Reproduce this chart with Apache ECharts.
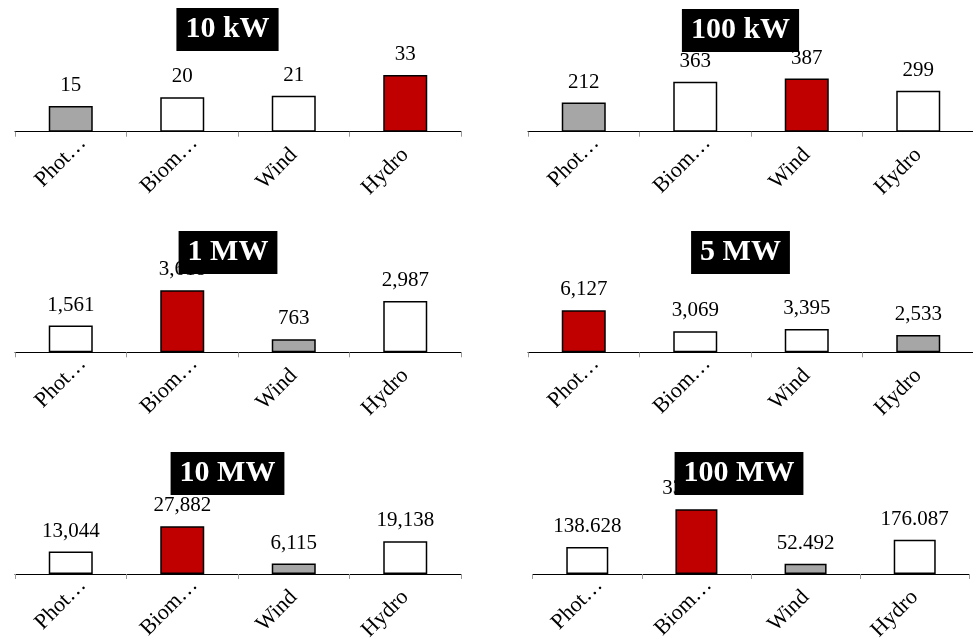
<!DOCTYPE html>
<html>
<head>
<meta charset="utf-8">
<script src="https://cdn.jsdelivr.net/npm/echarts@6/dist/echarts.min.js"></script>
<style>
html,body{margin:0;padding:0;background:#fff;}
#main{width:973px;height:642px;}
</style>
</head>
<body>
<div id="main"></div>
<script>
// ---- data ----
const categories = ["Photovoltaic", "Biomass", "Wind", "Hydro"];
const panelTitles = ["10 kW", "100 kW", "1 MW", "5 MW", "10 MW", "100 MW"];
const values10kW  = [15, 20, 21, 33];
const values100kW = [212, 363, 387, 299];
const values1MW   = [1561, 3618, 763, 2987];
const values5MW   = [6127, 3069, 3395, 2533];
const values10MW  = [13044, 27882, 6115, 19138];
const values100MW = [138628, 332568, 52492, 176087];
const axisMax     = [60, 750, 6000, 15000, 60000, 530000];
const separators  = [",", ",", ",", ",", ",", "."];

const allValues = [values10kW, values100kW, values1MW, values5MW, values10MW, values100MW];

// ---- layout ----
const layout = [
  {left: 15,    width: 446,   top: 28.7,  title: 227.5, ttop: 8},
  {left: 528,   width: 446,   top: 28.7,  title: 740.5, ttop: 9},
  {left: 15,    width: 446,   top: 249.3, title: 228,   ttop: 231},
  {left: 528,   width: 446,   top: 249.3, title: 740.5, ttop: 231},
  {left: 15,    width: 446,   top: 471,   title: 227.5, ttop: 452},
  {left: 532.7, width: 436.6, top: 471,   title: 739,   ttop: 452}
];
const H = 103;
const serif = "'Liberation Serif', 'Times New Roman', serif";

function fmt(v, sep) {
  return String(Math.round(v)).replace(/\B(?=(\d{3})+(?!\d))/g, sep);
}

const grids = [], xAxes = [], yAxes = [], series = [], titles = [];
allValues.forEach((vals, i) => {
  const L = layout[i];
  const mx = Math.max(...vals), mn = Math.min(...vals);
  grids.push({left: L.left, width: L.width, top: L.top, height: H, containLabel: false, outerBoundsMode: 'none'});
  xAxes.push({
    type: 'category', gridIndex: i, data: categories, boundaryGap: true,
    axisLine: {lineStyle: {color: '#000', width: 1}},
    axisTick: {show: true, alignWithLabel: false, length: 5, lineStyle: {color: '#999999', width: 1}},
    axisLabel: {
      interval: 0, rotate: 45, margin: 20, color: '#000', fontSize: 22, fontFamily: serif,
      formatter: v => v.length > 6 ? '{t|' + v.slice(0, 4) + '…}' : v,
      rich: {
        t: {color: '#000', fontSize: 22, fontFamily: serif, padding: [0, -17, 0, 0]}
      }
    }
  });
  yAxes.push({type: 'value', gridIndex: i, min: 0, max: axisMax[i], show: false, splitLine: {show: false}});
  series.push({
    type: 'bar', xAxisIndex: i, yAxisIndex: i, barWidth: i === 5 ? 42 : 44,
    data: vals.map(v => ({
      value: v,
      itemStyle: {color: v === mx ? '#c00000' : (v === mn ? '#a6a6a6' : '#ffffff')}
    })),
    itemStyle: {borderColor: '#000', borderWidth: 1.5},
    label: {
      show: true, position: 'top', distance: 10, color: '#000', fontSize: 21, fontFamily: serif,
      formatter: p => fmt(p.value, separators[i])
    },
    emphasis: {disabled: true},
    animation: false
  });
  titles.push({
    text: panelTitles[i], left: L.title - 9, top: L.ttop, textAlign: 'center',
    backgroundColor: '#000', padding: [6, 9, 7, 9],
    textStyle: {color: '#fff', fontSize: 30, fontWeight: 'bold', fontFamily: serif}
  });
});

const chart = echarts.init(document.getElementById('main'));
chart.setOption({
  animation: false,
  backgroundColor: '#fff',
  title: titles,
  grid: grids,
  xAxis: xAxes,
  yAxis: yAxes,
  series: series
});
</script>
</body>
</html>
